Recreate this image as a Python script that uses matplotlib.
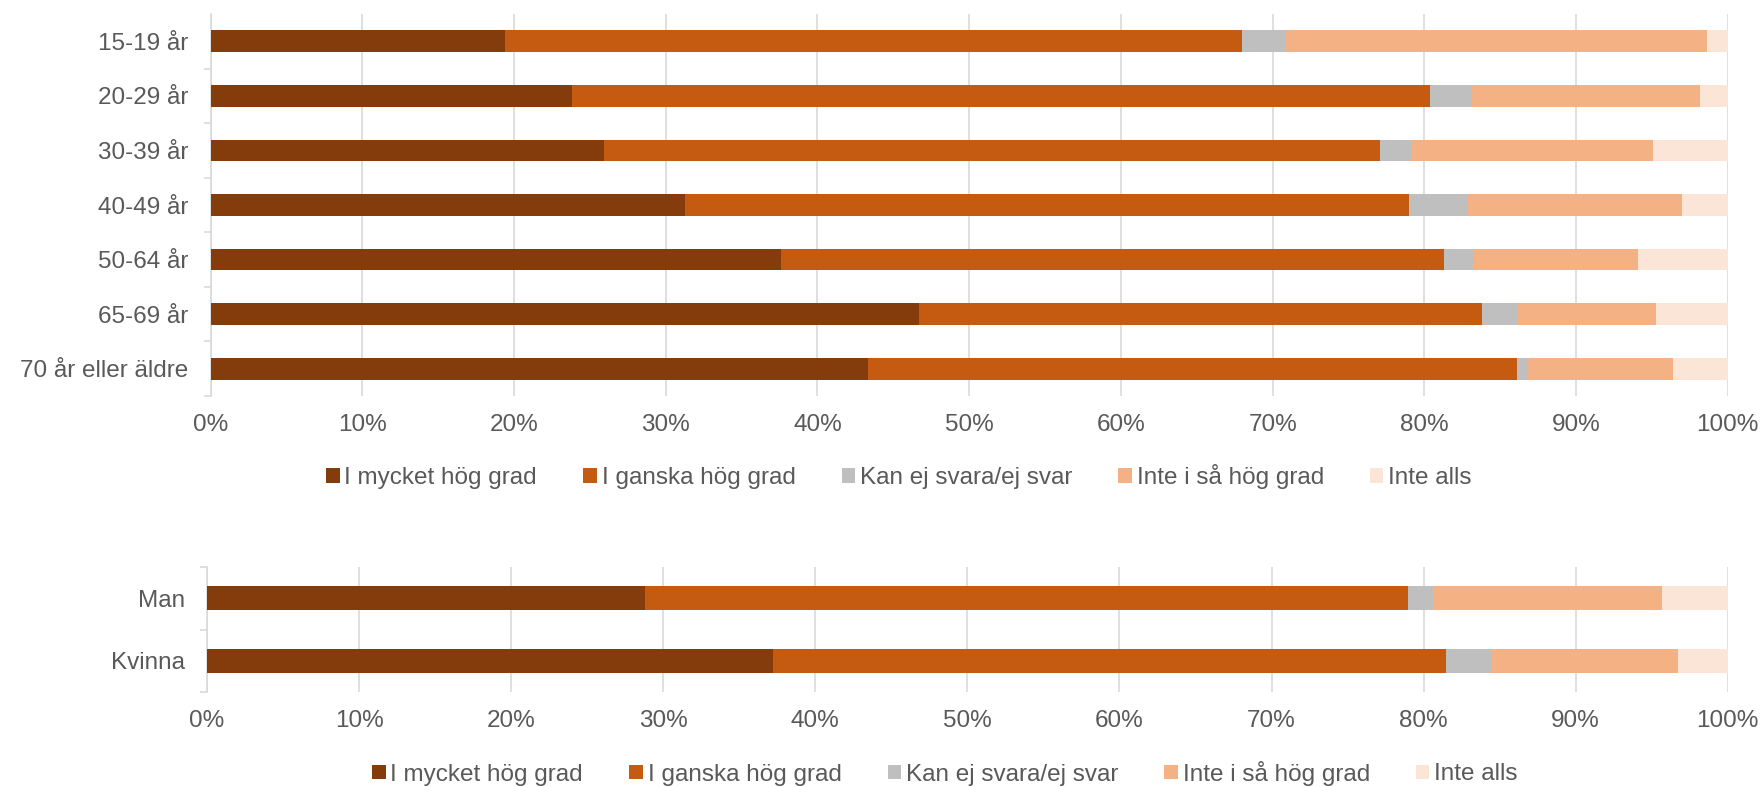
import matplotlib
matplotlib.use("Agg")
import matplotlib.pyplot as plt
from matplotlib.patches import Patch
import numpy as np

plt.rcParams['font.family'] = ['Liberation Sans', 'DejaVu Sans']

series = ["I mycket hög grad", "I ganska hög grad", "Kan ej svara/ej svar",
          "Inte i så hög grad", "Inte alls"]
colors = ["#843C0C", "#C55A11", "#BFBFBF", "#F4B183", "#FBE5D6"]

age_groups = ["15-19 år", "20-29 år", "30-39 år", "40-49 år", "50-64 år",
              "65-69 år", "70 år eller äldre"]
age_mycket = [19.4, 23.8, 25.9, 31.3, 37.6, 46.7, 43.3]
age_ganska = [48.6, 56.6, 51.2, 47.7, 43.7, 37.1, 42.8]
age_kanej = [2.9, 2.7, 2.1, 3.8, 2.0, 2.4, 0.7]
age_inte_sa = [27.7, 15.1, 15.9, 14.2, 10.8, 9.1, 9.6]
age_inte_alls = [1.4, 1.8, 4.9, 3.0, 5.9, 4.7, 3.6]

sex_groups = ["Man", "Kvinna"]
sex_mycket = [28.8, 37.2]
sex_ganska = [50.2, 44.3]
sex_kanej = [1.6, 3.0]
sex_inte_sa = [15.1, 12.2]
sex_inte_alls = [4.3, 3.3]

xticks = [0, 10, 20, 30, 40, 50, 60, 70, 80, 90, 100]
xticklabels = [f"{v}%" for v in xticks]

W, H = 1762, 787
fig = plt.figure(figsize=(W / 100, H / 100), dpi=100)

TXT = "#595959"
GRID = "#D9D9D9"
FS = 17.5


def px_rect(l, t, r, b):
    return [l / W, 1 - b / H, (r - l) / W, (b - t) / H]


def draw(ax, cats, data, height, top_tick):
    y = np.arange(len(cats))
    left = np.zeros(len(cats))
    for vals, c in zip(data, colors):
        ax.barh(y, vals, left=left, height=height, color=c, edgecolor='none', zorder=3)
        left += np.array(vals)
    ax.set_xlim(0, 100)
    ax.set_ylim(len(cats) - 0.5, -0.5)
    ax.set_yticks(y)
    ax.set_yticklabels(cats, fontsize=FS, color=TXT)
    start = 0 if top_tick else 1
    ax.set_yticks((np.arange(len(cats) + 1) - 0.5)[start:], minor=True)
    ax.tick_params(axis='y', which='major', length=0, pad=16)
    ax.tick_params(axis='y', which='minor', length=5, width=1.2, color=GRID)
    ax.set_xticks(xticks)
    ax.set_xticklabels(xticklabels, fontsize=FS, color=TXT)
    ax.tick_params(axis='x', length=0, pad=13)
    ax.grid(axis='x', color=GRID, linewidth=1.2, zorder=0)
    for s in ['top', 'right', 'bottom']:
        ax.spines[s].set_visible(False)
    ax.spines['left'].set_color(GRID)
    ax.spines['left'].set_linewidth(1.2)


ax1 = fig.add_axes(px_rect(210.6, 14, 1727.8, 396))
draw(ax1, age_groups, [age_mycket, age_ganska, age_kanej, age_inte_sa, age_inte_alls], 0.40, False)

ax2 = fig.add_axes(px_rect(207, 567, 1727.8, 692))
draw(ax2, sex_groups, [sex_mycket, sex_ganska, sex_kanej, sex_inte_sa, sex_inte_alls], 0.39, True)

handles = [Patch(facecolor=c, edgecolor='none', label=s) for s, c in zip(series, colors)]
for (cx, cy) in [(899, 476.7), (945, 773)]:
    leg = fig.legend(handles=handles, loc='center', bbox_to_anchor=(cx / W, 1 - cy / H),
                     ncol=5, frameon=False, fontsize=FS, handlelength=0.55,
                     handleheight=0.55, handletextpad=0.2, columnspacing=1.9,
                     borderpad=0, borderaxespad=0)
    for t in leg.get_texts():
        t.set_color(TXT)

fig.savefig("out.png", dpi=100)
